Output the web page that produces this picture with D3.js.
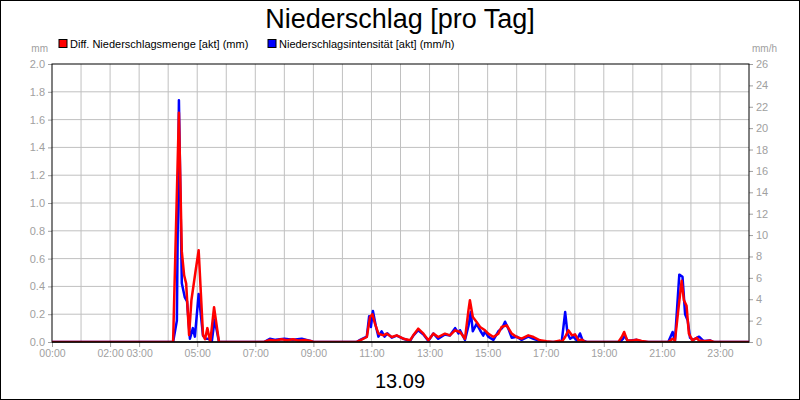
<!DOCTYPE html>
<html><head><meta charset="utf-8">
<script src="https://cdn.jsdelivr.net/npm/d3@7"></script>
<style>body{margin:0;background:#fff}text{font-family:"Liberation Sans",Arial,sans-serif}</style>
</head><body><svg id="c" width="800" height="400"></svg>
<script>
const title = "Niederschlag [pro Tag]";
const dateLabel = "13.09";
const seriesNames = ["Diff. Niederschlagsmenge [akt] (mm)", "Niederschlagsintensität [akt] (mm/h)"];
const xTickHours = [0,2,3,5,7,9,11,13,15,17,19,21,23];
const leftTicks = [0,0.2,0.4,0.6,0.8,1.0,1.2,1.4,1.6,1.8,2.0];
const rightTicks = [0,2,4,6,8,10,12,14,16,18,20,22,24,26];
// [hour, mm]
const redHours = [0,4.17,4.37,4.47,4.55,4.62,4.72,4.8,4.95,5.05,5.2,5.27,5.35,5.45,5.58,5.75,7.3,7.5,7.7,7.9,8.1,8.3,8.5,8.7,8.9,9.0,
 10.49,10.61,10.84,10.95,11.03,11.12,11.24,11.41,11.52,11.70,11.87,12.10,12.33,12.44,12.61,12.79,12.96,13.13,13.30,13.53,13.70,13.88,14.05,14.22,14.34,14.39,14.49,14.62,14.74,14.91,15.02,15.20,15.37,15.48,15.66,15.83,16.0,16.17,16.40,16.58,16.80,17.03,17.26,17.47,
 17.55,17.67,17.78,17.9,18.01,18.13,18.24,18.36,19.5,19.62,19.70,19.81,19.96,20.13,20.3,20.54,
 21.22,21.37,21.45,21.55,21.68,21.76,21.85,21.93,22.05,22.2,22.28,22.5,22.66,22.8,24];
const redValues = [0,0,1.65,0.65,0.48,0.42,0.05,0.3,0.52,0.66,0.05,0.02,0.1,0,0.25,0,0,0.015,0.01,0.02,0.012,0.02,0.01,0.015,0.008,0,
 0,0.012,0.036,0.18,0.2,0.132,0.06,0.048,0.06,0.036,0.048,0.024,0.012,0.048,0.096,0.06,0.012,0.06,0.036,0.06,0.048,0.084,0.072,0.024,0.228,0.3,0.18,0.144,0.108,0.084,0.06,0.036,0.06,0.108,0.12,0.06,0.036,0.024,0.048,0.036,0.012,0.005,0,0.01,
 0,0.036,0.084,0.048,0.055,0.012,0.017,0,0,0.036,0.072,0.01,0.01,0.017,0.007,0,
 0,0.024,0.01,0.2,0.44,0.3,0.26,0.06,0.012,0.03,0.01,0.005,0.01,0,0];
// [hour, mm/h]
const blueHours = [0,4.17,4.3,4.37,4.47,4.57,4.65,4.75,4.85,4.92,5.05,5.2,5.3,5.4,5.5,5.6,5.75,7.3,7.5,7.7,8.0,8.3,8.6,8.9,9.0,
 10.49,10.61,10.84,10.92,10.98,11.05,11.15,11.24,11.35,11.45,11.55,11.7,11.87,12.1,12.33,12.44,12.61,12.79,12.96,13.13,13.3,13.53,13.7,13.88,14.0,14.05,14.22,14.34,14.42,14.49,14.62,14.74,14.85,14.91,15.02,15.2,15.37,15.5,15.6,15.72,15.83,16.0,16.17,16.4,16.58,16.8,17.03,17.26,
 17.55,17.61,17.67,17.75,17.84,17.95,18.07,18.18,18.27,18.41,19.55,19.66,19.72,19.82,20.13,20.3,20.5,
 21.22,21.37,21.45,21.6,21.71,21.8,21.89,21.97,22.08,22.28,22.43,22.66,22.77,24];
const blueValues = [0,0,2,22.6,5.5,4.2,3.8,0.3,1.3,0.5,4.5,0.6,0.3,0.3,0,2.1,0,0,0.3,0.2,0.3,0.2,0.3,0.1,0,
 0,0.2,0.5,2.4,1.4,2.9,1.5,0.5,1.0,0.5,0.8,0.4,0.6,0.3,0.1,0.6,1.1,0.7,0.1,0.8,0.3,0.7,0.6,1.3,0.8,1.1,0.2,1.5,2.8,1.0,1.7,1.1,0.6,1.0,0.5,0.2,1.0,1.3,1.9,1.2,0.4,0.5,0.2,0.5,0.3,0.1,0,0,
 0,1.4,2.8,0.8,0.3,0.5,0.15,0.8,0.15,0,0,0.3,0.6,0.1,0.2,0.05,0,
 0,0.94,0.1,6.3,6.1,2.6,2.0,0.4,0.2,0.5,0.1,0.15,0,0];

const svg = d3.select("#c");
const L=52,R=749,T=64,B=342;
const x = d3.scaleLinear().domain([0,24]).range([L,R]);
const yL = d3.scaleLinear().domain([0,2]).range([B,T]);
const yR = d3.scaleLinear().domain([0,26]).range([B,T]);
svg.append("rect").attr("x",0.5).attr("y",0.5).attr("width",799).attr("height",399).attr("fill","#fff").attr("stroke","#000");
const g = svg.append("g");
g.selectAll(".vg").data(d3.range(1,24)).join("line").attr("x1",d=>x(d)).attr("x2",d=>x(d)).attr("y1",T).attr("y2",B).attr("stroke","#c0c0c0");
g.selectAll(".hg").data(leftTicks.slice(1,-1)).join("line").attr("x1",L).attr("x2",R).attr("y1",d=>yL(d)).attr("y2",d=>yL(d)).attr("stroke","#c0c0c0");
const ax = (fs)=>(sel)=>{sel.selectAll("text").attr("fill","#a0a0a0").style("font-size",fs);sel.selectAll("line").attr("stroke","#a0a0a0");sel.select(".domain").remove();};
svg.append("g").attr("transform",`translate(${L},0)`).call(d3.axisLeft(yL).tickValues(leftTicks).tickFormat(d3.format(".1f")).tickSize(4)).call(ax("11px"));
svg.append("g").attr("transform",`translate(${R},0)`).call(d3.axisRight(yR).tickValues(rightTicks).tickFormat(d3.format("d")).tickSize(4)).call(ax("11px"));
svg.append("g").attr("transform",`translate(0,${B})`).call(d3.axisBottom(x).tickValues(xTickHours).tickFormat(h=>String(h).padStart(2,"0")+":00").tickSize(5).tickPadding(3)).call(ax("10.5px"));
svg.append("rect").attr("x",L).attr("y",T).attr("width",R-L).attr("height",B-T).attr("fill","none").attr("stroke","#000");
svg.append("clipPath").attr("id","cp").append("rect").attr("x",L).attr("y",T-15).attr("width",R-L).attr("height",B-T+15);
const lineB = d3.line().x((d,i)=>x(blueHours[i])).y(d=>yR(d));
const lineR = d3.line().x((d,i)=>x(redHours[i])).y(d=>yL(d));
svg.append("path").attr("d",lineB(blueValues)).attr("fill","none").attr("stroke","#0000ff").attr("stroke-width",2.5).attr("stroke-linejoin","round").attr("clip-path","url(#cp)");
svg.append("path").attr("d",lineR(redValues)).attr("fill","none").attr("stroke","#ff0000").attr("stroke-width",2.5).attr("stroke-linejoin","round").attr("clip-path","url(#cp)");
svg.append("line").attr("x1",L).attr("x2",R).attr("y1",B).attr("y2",B).attr("stroke","#000").attr("stroke-width",1.5);
svg.append("text").attr("x",400).attr("y",28).attr("text-anchor","middle").style("font-size","27px").text(title);
svg.append("text").attr("x",400).attr("y",388).attr("text-anchor","middle").style("font-size","20px").text(dateLabel);
svg.append("text").attr("x",48).attr("y",52).attr("text-anchor","end").attr("fill","#a0a0a0").style("font-size","10px").text("mm");
svg.append("text").attr("x",752).attr("y",52).attr("fill","#a0a0a0").style("font-size","10px").text("mm/h");
const legX=[59,268], cols=["#ff0000","#0000ff"];
seriesNames.forEach((n,i)=>{
  svg.append("rect").attr("x",legX[i]).attr("y",39.5).attr("width",8).attr("height",8).attr("fill",cols[i]).attr("stroke","#000");
  svg.append("text").attr("x",legX[i]+11).attr("y",48).style("font-size","11px").text(n);
});
</script></body></html>
